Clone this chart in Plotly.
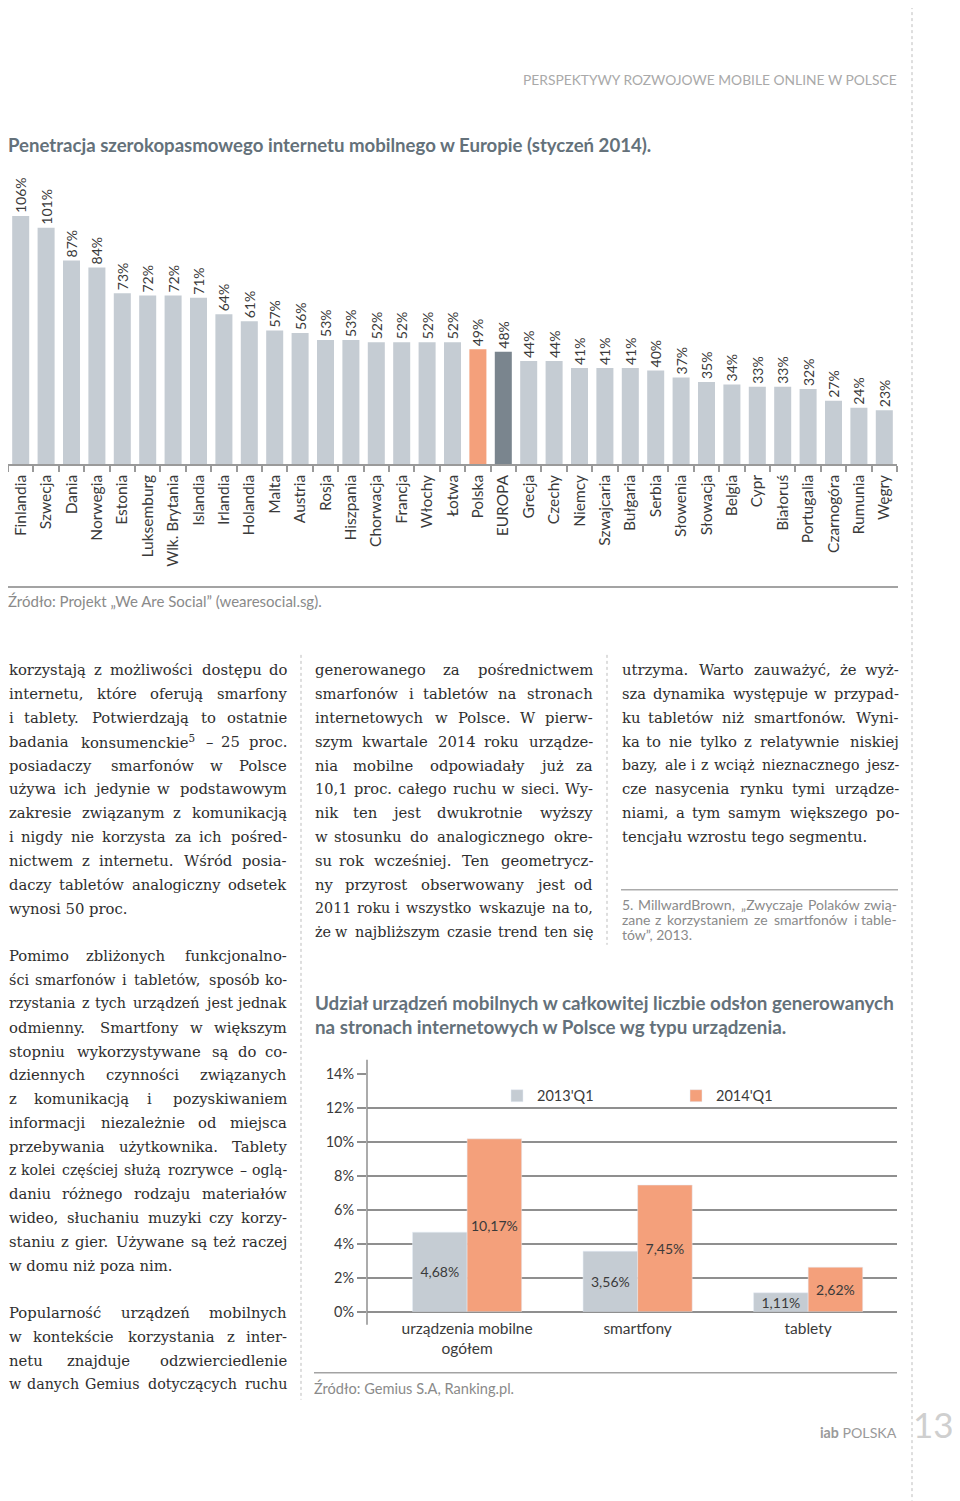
import glob
import struct
import plotly.graph_objects as go

W, H = 960, 1501
OX = 8                  # horizontal page offset of the figure
OY, SY = 16.9, 0.989    # vertical offset / scale observed in the rendered page

def X(px):
    return (px - OX) / W

def Y(py):
    return 1 - ((py - OY) / SY) / H

# ---------------- data ----------------
countries = ["Finlandia", "Szwecja", "Dania", "Norwegia", "Estonia", "Luksemburg",
             "Wlk. Brytania", "Islandia", "Irlandia", "Holandia", "Malta", "Austria",
             "Rosja", "Hiszpania", "Chorwacja", "Francja", "Włochy", "Łotwa", "Polska",
             "EUROPA", "Grecja", "Czechy", "Niemcy", "Szwajcaria", "Bułgaria", "Serbia",
             "Słowenia", "Słowacja", "Belgia", "Cypr", "Białoruś", "Portugalia",
             "Czarnogóra", "Rumunia", "Węgry"]
penetration = [106, 101, 87, 84, 73, 72, 72, 71, 64, 61, 57, 56, 53, 53, 52, 52, 52, 52,
               49, 48, 44, 44, 41, 41, 41, 40, 37, 35, 34, 33, 33, 32, 27, 24, 23]

devices = ["urządzenia mobilne<br>ogółem", "smartfony", "tablety"]
share_2013q1 = [4.68, 3.56, 1.11]
share_2014q1 = [10.17, 7.45, 2.62]
series_names = ["2013'Q1", "2014'Q1"]
y2_ticks = [0, 2, 4, 6, 8, 10, 12, 14]

# ---------------- styles ----------------
GRAY_BAR = "#c5ccd3"
ORANGE_BAR = "#f4a07b"
DARK_BAR = "#7a858e"
AXIS_GRAY = "#9a9a9a"
TXT = "#3a3a3a"
TITLE_C = "#64717a"
SANS = "Lato"
SERIF = "DejaVu Serif"

bar_colors = [ORANGE_BAR if c == "Polska" else DARK_BAR if c == "EUROPA" else GRAY_BAR
              for c in countries]

fig = go.Figure()

fig.add_trace(go.Bar(
    x=countries, y=penetration, marker=dict(color=bar_colors, line=dict(width=0)),
    width=0.67, text=[f"{v}%" for v in penetration], textposition="outside",
    textangle=-90, textfont=dict(family=SANS, size=14, color=TXT),
    constraintext="none", cliponaxis=False, xaxis="x", yaxis="y",
    showlegend=False, hoverinfo="x+y"))

fmt = lambda v: f"{v:.2f}".replace(".", ",") + "%"
fig.add_trace(go.Bar(
    x=devices, y=share_2013q1, name=series_names[0], marker_color=GRAY_BAR,
    width=0.32, offset=-0.32, text=[fmt(v) for v in share_2013q1],
    textposition="inside", insidetextanchor="middle", constraintext="none",
    textfont=dict(family=SANS, size=14, color=TXT), xaxis="x2", yaxis="y2"))
fig.add_trace(go.Bar(
    x=devices, y=share_2014q1, name=series_names[1], marker_color=ORANGE_BAR,
    width=0.32, offset=0.0, text=[fmt(v) for v in share_2014q1],
    textposition="inside", insidetextanchor="middle", constraintext="none",
    textfont=dict(family=SANS, size=14, color=TXT), xaxis="x2", yaxis="y2"))

top_base = 464
top_scale = 2.34
top_max = 120

fig.update_layout(
    width=W, height=H, margin=dict(l=0, r=0, t=0, b=0),
    paper_bgcolor="white", plot_bgcolor="rgba(0,0,0,0)",
    font=dict(family=SANS, color=TXT),
    barmode="overlay",
    xaxis=dict(domain=[X(8), X(897)], type="category", tickson="boundaries",
               ticks="outside", ticklen=6, tickcolor=AXIS_GRAY, tickwidth=1.5,
               showline=True, linecolor=AXIS_GRAY, linewidth=1.5, tickangle=-90,
               tickfont=dict(family=SANS, size=15.5, color=TXT), showgrid=False,
               ticklabelstandoff=3, anchor="y", fixedrange=True),
    yaxis=dict(domain=[Y(top_base), Y(top_base - top_max * top_scale)],
               range=[0, top_max], visible=False, anchor="x", fixedrange=True),
    xaxis2=dict(domain=[X(367), X(897)], type="category", range=[-0.587, 2.521],
                anchor="y2", showline=False, ticks="", showgrid=False,
                ticklabelstandoff=6,
                tickfont=dict(family=SANS, size=15.5, color=TXT), fixedrange=True),
    yaxis2=dict(domain=[Y(1312), Y(1312 - 14 * 17)], range=[0, 14],
                tickvals=y2_ticks, ticktext=[f"{t}%" for t in y2_ticks],
                showgrid=True, gridcolor="#8f8f8f", gridwidth=1.5,
                zeroline=True, zerolinecolor="#8f8f8f", zerolinewidth=1.5,
                ticks="outside", ticklen=9, tickcolor="#8f8f8f", tickwidth=1.5,
                tickfont=dict(family=SANS, size=14.5, color=TXT), anchor="x2",
                fixedrange=True),
    legend=dict(orientation="h", x=X(497), y=Y(1080), xanchor="left", yanchor="top",
                entrywidth=134, entrywidthmode="pixels", itemwidth=30,
                font=dict(family=SANS, size=14.5, color=TXT), bgcolor="rgba(0,0,0,0)",
                traceorder="normal"),
)

shapes = []
def vdot(x, y0, y1):
    shapes.append(dict(type="line", xref="paper", yref="paper", x0=X(x), x1=X(x),
                       y0=Y(y0), y1=Y(y1), line=dict(color="#bdbdbd", width=1, dash="dot")))
def hline(y, x0, x1, color="#a3a3a3", width=2):
    shapes.append(dict(type="line", xref="paper", yref="paper", x0=X(x0), x1=X(x1),
                       y0=Y(y), y1=Y(y), line=dict(color=color, width=width)))

vdot(912, 0, 1501)
vdot(301, 655, 1400)
vdot(607, 655, 945)
hline(587, 8, 898)
hline(890, 621, 898, "#ababab", 1.5)
hline(1373, 314, 897, "#a3a3a3", 1.5)
shapes.append(dict(type="line", xref="paper", yref="paper", x0=X(367), x1=X(367),
                   y0=Y(1060), y1=Y(1325), line=dict(color="#8f8f8f", width=1.5)))
fig.update_layout(shapes=shapes)

ann = []
def text(x, y, s, size, color=TXT, family=SANS, anchor="left"):
    ann.append(dict(xref="paper", yref="paper", x=X(x), y=Y(y), text=s, showarrow=False,
                    xanchor=anchor, yanchor="middle", borderpad=0,
                    font=dict(family=family, size=size, color=color)))

text(898, 79, "PERSPEKTYWY ROZWOJOWE MOBILE ONLINE W POLSCE", 13.8, "#a9a9a9", anchor="right")
text(7, 145, "<b>Penetracja szerokopasmowego internetu mobilnego w Europie (styczeń 2014).</b>",
     18.6, TITLE_C)
text(7, 601, "Źródło: Projekt „We Are Social” (wearesocial.sg).", 15, "#8a8a8a")
text(314, 1003, "<b>Udział urządzeń mobilnych w całkowitej liczbie odsłon generowanych</b>",
     18.8, TITLE_C)
text(314, 1027, "<b>na stronach internetowych w Polsce wg typu urządzenia.</b>", 18.8, TITLE_C)
text(313, 1388, "Źródło: Gemius S.A, Ranking.pl.", 14.6, "#8a8a8a")
text(898, 1433, "<b>iab</b> POLSKA", 14.2, "#9a9a9a", anchor="right")
text(955, 1424, "13", 35, "#cfcfcf", anchor="right")

col1_p1 = ["korzystają z możliwości dostępu do",
           "internetu, które oferują smarfony",
           "i tablety. Potwierdzają to ostatnie",
           "badania konsumenckie<sup>5</sup> – 25 proc.",
           "posiadaczy smarfonów w Polsce",
           "używa ich jedynie w podstawowym",
           "zakresie związanym z komunikacją",
           "i nigdy nie korzysta za ich pośred-",
           "nictwem z internetu. Wśród posia-",
           "daczy tabletów analogiczny odsetek",
           "wynosi 50 proc."]
col1_p2 = ["Pomimo zbliżonych funkcjonalno-",
           "ści smarfonów i tabletów, sposób ko-",
           "rzystania z tych urządzeń jest jednak",
           "odmienny. Smartfony w większym",
           "stopniu wykorzystywane są do co-",
           "dziennych czynności związanych",
           "z komunikacją i pozyskiwaniem",
           "informacji niezależnie od miejsca",
           "przebywania użytkownika. Tablety",
           "z kolei częściej służą rozrywce – oglą-",
           "daniu różnego rodzaju materiałów",
           "wideo, słuchaniu muzyki czy korzy-",
           "staniu z gier. Używane są też raczej",
           "w domu niż poza nim."]
col1_p3 = ["Popularność urządzeń mobilnych",
           "w kontekście korzystania z inter-",
           "netu znajduje odzwierciedlenie",
           "w danych Gemius dotyczących ruchu"]
col2 = ["generowanego za pośrednictwem",
        "smarfonów i tabletów na stronach",
        "internetowych w Polsce. W pierw-",
        "szym kwartale 2014 roku urządze-",
        "nia mobilne odpowiadały już za",
        "10,1 proc. całego ruchu w sieci. Wy-",
        "nik ten jest dwukrotnie wyższy",
        "w stosunku do analogicznego okre-",
        "su rok wcześniej. Ten geometrycz-",
        "ny przyrost obserwowany jest od",
        "2011 roku i wszystko wskazuje na to,",
        "że w najbliższym czasie trend ten się"]
col3 = ["utrzyma. Warto zauważyć, że wyż-",
        "sza dynamika występuje w przypad-",
        "ku tabletów niż smartfonów. Wyni-",
        "ka to nie tylko z relatywnie niskiej",
        "bazy, ale i z wciąż nieznacznego jesz-",
        "cze nasycenia rynku tymi urządze-",
        "niami, a tym samym większego po-",
        "tencjału wzrostu tego segmentu."]
footnote = ["5. MillwardBrown, „Zwyczaje Polaków zwią-",
            "zane z korzystaniem ze smartfonów i table-",
            "tów”, 2013."]


# ---------- font metrics (for justified text), read from installed TTF ----------
def load_metrics(names, fudge=1.0):
    path = None
    for root in ("/usr/share/fonts", "/usr/local/share/fonts"):
        for n in names:
            found = glob.glob(f"{root}/**/{n}", recursive=True)
            if found:
                path = found[0]
                break
        if path:
            break
    if not path:
        return None
    try:
        data = open(path, "rb").read()
        ntab = struct.unpack(">H", data[4:6])[0]
        tables = {}
        for i in range(ntab):
            tag, _, off, ln = struct.unpack(">4sIII", data[12 + 16 * i:28 + 16 * i])
            tables[tag.decode("latin1")] = off
        upem = struct.unpack(">H", data[tables["head"] + 18:tables["head"] + 20])[0]
        nhm = struct.unpack(">H", data[tables["hhea"] + 34:tables["hhea"] + 36])[0]
        ho = tables["hmtx"]
        adv = [struct.unpack(">H", data[ho + 4 * i:ho + 4 * i + 2])[0] for i in range(nhm)]
        co = tables["cmap"]
        nsub = struct.unpack(">H", data[co + 2:co + 4])[0]
        sub = None
        for i in range(nsub):
            pid, eid, so = struct.unpack(">HHI", data[co + 4 + 8 * i:co + 12 + 8 * i])
            if struct.unpack(">H", data[co + so:co + so + 2])[0] == 4 and pid in (0, 3):
                sub = co + so
                break
        if sub is None:
            return None
        segx2 = struct.unpack(">H", data[sub + 6:sub + 8])[0]
        seg = segx2 // 2
        ends = struct.unpack(f">{seg}H", data[sub + 14:sub + 14 + segx2])
        starts = struct.unpack(f">{seg}H", data[sub + 16 + segx2:sub + 16 + 2 * segx2])
        deltas = struct.unpack(f">{seg}h", data[sub + 16 + 2 * segx2:sub + 16 + 3 * segx2])
        rpos = sub + 16 + 3 * segx2
        ros = struct.unpack(f">{seg}H", data[rpos:rpos + segx2])
        cache = {}

        def gid(c):
            if c in cache:
                return cache[c]
            g = 0
            for i in range(seg):
                if starts[i] <= c <= ends[i]:
                    if ros[i] == 0:
                        g = (c + deltas[i]) & 0xFFFF
                    else:
                        a = rpos + 2 * i + ros[i] + 2 * (c - starts[i])
                        g0 = struct.unpack(">H", data[a:a + 2])[0]
                        g = (g0 + deltas[i]) & 0xFFFF if g0 else 0
                    break
            cache[c] = g
            return g

        def width(s, size):
            return fudge * sum(adv[min(gid(ord(ch)), nhm - 1)] for ch in s) * size / upem
        return width
    except Exception:
        return None


serif_w = load_metrics(["DejaVuSerif.ttf"], fudge=1.05)
sans_w = load_metrics(["Lato-Regular.ttf", "Lato-Regular.TTF"], fudge=1.02)


def word_width(wfun, w, size):
    if "<sup>" in w:
        base, rest = w.split("<sup>", 1)
        sup = rest.split("</sup>", 1)[0]
        tail = rest.split("</sup>", 1)[1] if "</sup>" in rest else ""
        return wfun(base + tail, size) + wfun(sup, size * 0.7)
    return wfun(w, size)


def justified(x0, x1, y, line, size, color, family, wfun, last=False, min_gap=0.3):
    words = line.split(" ")
    if wfun is None or last or len(words) < 2:
        text(x0, y, line, size, color, family)
        return
    ws = [word_width(wfun, w, size) for w in words]
    need = sum(ws) + (len(words) - 1) * min_gap * size
    if need > x1 - x0:  # shrink this line slightly so words never touch
        k = (x1 - x0) / need
        size *= k
        ws = [w * k for w in ws]
    gap = (x1 - x0 - sum(ws)) / (len(words) - 1)
    pos = x0
    for i, (w, wd) in enumerate(zip(words, ws)):
        if i == 0:
            text(x0, y, w, size, color, family, "left")
        elif i == len(words) - 1:
            text(x1, y, w, size, color, family, "right")
        else:
            text(pos + wd / 2, y, w, size, color, family, "center")
        pos += wd + gap


LS = 23.82
BODY = 14.8
for (x0, x1), y0, lines, last_free in [((8, 288), 670, col1_p1, True),
                                       ((8, 288), 956, col1_p2, True),
                                       ((8, 288), 1313, col1_p3, False),
                                       ((314, 594), 670, col2, False),
                                       ((621, 900), 670, col3, True)]:
    for i, ln in enumerate(lines):
        justified(x0, x1, y0 + i * LS, ln, BODY, "#2e2e2e", SERIF, serif_w,
                  last=(last_free and i == len(lines) - 1))
for i, ln in enumerate(footnote):
    justified(621, 898, 905 + i * 15, ln, 14, "#8a8a8a", SANS, sans_w,
              last=(i == len(footnote) - 1), min_gap=0.22)

fig.update_layout(annotations=ann)
fig.write_html("out.html")
